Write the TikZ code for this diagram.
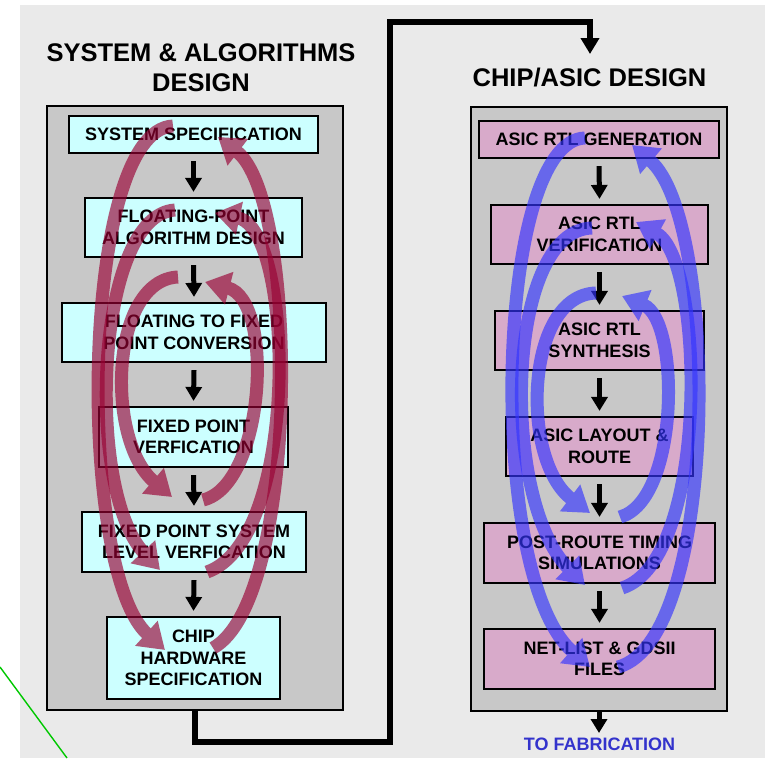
\documentclass[tikz,border=0pt]{standalone}
\usepackage{fontspec}
\setmainfont{Liberation Sans}
\usetikzlibrary{arrows.meta}
\definecolor{bgc}{RGB}{234,234,234}
\definecolor{panelc}{RGB}{200,200,200}
\definecolor{cyanbox}{RGB}{204,255,255}
\definecolor{pinkbox}{RGB}{216,170,202}
\definecolor{loopredc}{RGB}{153,0,51}
\definecolor{loopbluec}{RGB}{51,51,255}
\definecolor{fabblue}{RGB}{51,51,204}
\definecolor{linegreen}{RGB}{0,200,0}
\newcommand\boxfont{\fontsize{18}{21.5}\selectfont\bfseries}
\newcommand\titlefont{\fontsize{25.5}{30}\selectfont\bfseries}
\tikzset{
  panel/.style={draw=black, line width=1.5pt, fill=panelc, inner sep=0pt},
  sabox/.style={draw=black, line width=2.2pt, fill=cyanbox, inner sep=0pt, align=center, font=\boxfont},
  asbox/.style={sabox, fill=pinkbox},
  flowarrow/.style={line width=5pt, -{Triangle[width=16pt,length=14pt]}},
  linkline/.style={line width=6pt, line join=miter},
  redloop/.style={draw=loopredc, line width=13pt, -{Triangle[width=32pt,length=25pt]}},
  blueloop/.style={draw=loopbluec, line width=13pt, -{Triangle[width=32pt,length=25pt]}},
  ttl/.style={font=\titlefont, anchor=base, inner sep=0pt},
}
\begin{document}
\begin{tikzpicture}[x=1pt,y=-1pt]
\useasboundingbox (0,0) rectangle (765,758);
\fill[bgc] (20,5) rectangle (765,758);
\coordinate (g1) at (0,667);
\coordinate (g2) at (67,758);
\draw[linegreen, line width=1.4pt] (g1) -- (g2);

% titles
\node[ttl] (t1a) at (201,61.5) {SYSTEM \& ALGORITHMS};
\node[ttl] (t1b) at (201,91.5) {DESIGN};
\node[ttl] (t2) at (589.5,86) {CHIP/ASIC DESIGN};

% panels
\node[panel, minimum width=296pt, minimum height=604pt] (LP) at (195,408) {};
\node[panel, minimum width=256pt, minimum height=604pt] (RP) at (599,409) {};

% left boxes
\node[sabox, minimum width=249pt, minimum height=37pt] (L1) at (193.5,134.5) {SYSTEM SPECIFICATION};
\node[sabox, minimum width=217pt, minimum height=59pt] (L2) at (193.5,227.5) {FLOATING-POINT\\ALGORITHM DESIGN};
\node[sabox, minimum width=264pt, minimum height=59pt] (L3) at (194,332.5) {FLOATING TO FIXED\\POINT CONVERSION};
\node[sabox, minimum width=189pt, minimum height=60pt] (L4) at (193.5,437) {FIXED POINT\\VERFICATION};
\node[sabox, minimum width=224pt, minimum height=60pt] (L5) at (194,542) {FIXED POINT SYSTEM\\LEVEL VERFICATION};
\node[sabox, minimum width=173pt, minimum height=82pt] (L6) at (193.5,658) {CHIP\\HARDWARE\\SPECIFICATION};

% right boxes
\node[asbox, minimum width=240pt, minimum height=37pt] (R1) at (599,139.5) {ASIC RTL GENERATION};
\node[asbox, minimum width=217pt, minimum height=59pt] (R2) at (599.5,234.5) {ASIC RTL\\VERIFICATION};
\node[asbox, minimum width=209pt, minimum height=59pt] (R3) at (599.5,340.5) {ASIC RTL\\SYNTHESIS};
\node[asbox, minimum width=187pt, minimum height=59pt] (R4) at (599.5,446.5) {ASIC LAYOUT \&\\ROUTE};
\node[asbox, minimum width=231pt, minimum height=60pt] (R5) at (599.5,553) {POST-ROUTE TIMING\\SIMULATIONS};
\node[asbox, minimum width=231pt, minimum height=60pt] (R6) at (599.5,659) {NET-LIST \& GDSII\\FILES};

% flow arrows
\foreach \a/\b in {L1/L2,L2/L3,L3/L4,L4/L5,L5/L6,R1/R2,R2/R3,R3/R4,R4/R5,R5/R6}
  \draw[flowarrow] ([yshift=-7pt]\a.south) -- ([yshift=5pt]\b.north);

% link between panels
\coordinate (k1) at (195,742);
\coordinate (k2) at (390,742);
\coordinate (k3) at (390,22);
\coordinate (k4) at (590,22);
\coordinate (k5) at (590,54);
\draw[linkline] (LP.south) -- (k1) -- (k2) -- (k3) -- (k4) -- (590,36);
\draw[line width=6pt, -{Triangle[width=18pt,length=16pt]}] (590,30) -- (k5);

% exit arrow
\node[font=\boxfont, text=fabblue, anchor=base, inner sep=0pt] (fab) at (599.5,750) {TO FABRICATION};
\coordinate (ex) at (599,733);
\draw[flowarrow] (RP.south) -- (ex);

% left loops
\begin{scope}[transparency group, opacity=0.65]
\draw[redloop] (173,126) .. controls (80,130) and (76,570) .. (165,650);
\end{scope}
\begin{scope}[transparency group, opacity=0.65]
\draw[redloop] (213,648) .. controls (300,600) and (300,200) .. (218,137);
\end{scope}
\begin{scope}[transparency group, opacity=0.65]
\draw[redloop] (175,210) .. controls (95,215) and (85,490) .. (160,570);
\end{scope}
\begin{scope}[transparency group, opacity=0.65]
\draw[redloop] (207,572) .. controls (300,540) and (295,230) .. (215,213);
\end{scope}
\begin{scope}[transparency group, opacity=0.65]
\draw[redloop] (178,277) .. controls (110,280) and (105,440) .. (172,497);
\end{scope}
\begin{scope}[transparency group, opacity=0.65]
\draw[redloop] (203,500) .. controls (265,485) and (275,300) .. (205,282);
\end{scope}

% right loops
\begin{scope}[transparency group, opacity=0.65]
\draw[blueloop] (585,138) .. controls (495,140) and (485,575) .. (590,667);
\end{scope}
\begin{scope}[transparency group, opacity=0.65]
\draw[blueloop] (618,667) .. controls (720,640) and (720,220) .. (632,145);
\end{scope}
\begin{scope}[transparency group, opacity=0.65]
\draw[blueloop] (592,228) .. controls (505,230) and (500,500) .. (585,585);
\end{scope}
\begin{scope}[transparency group, opacity=0.65]
\draw[blueloop] (622,588) .. controls (710,560) and (705,260) .. (636,222);
\end{scope}
\begin{scope}[transparency group, opacity=0.65]
\draw[blueloop] (596,293) .. controls (525,295) and (520,460) .. (590,513);
\end{scope}
\begin{scope}[transparency group, opacity=0.65]
\draw[blueloop] (620,517) .. controls (680,500) and (680,320) .. (622,296);
\end{scope}
\end{tikzpicture}
\end{document}
